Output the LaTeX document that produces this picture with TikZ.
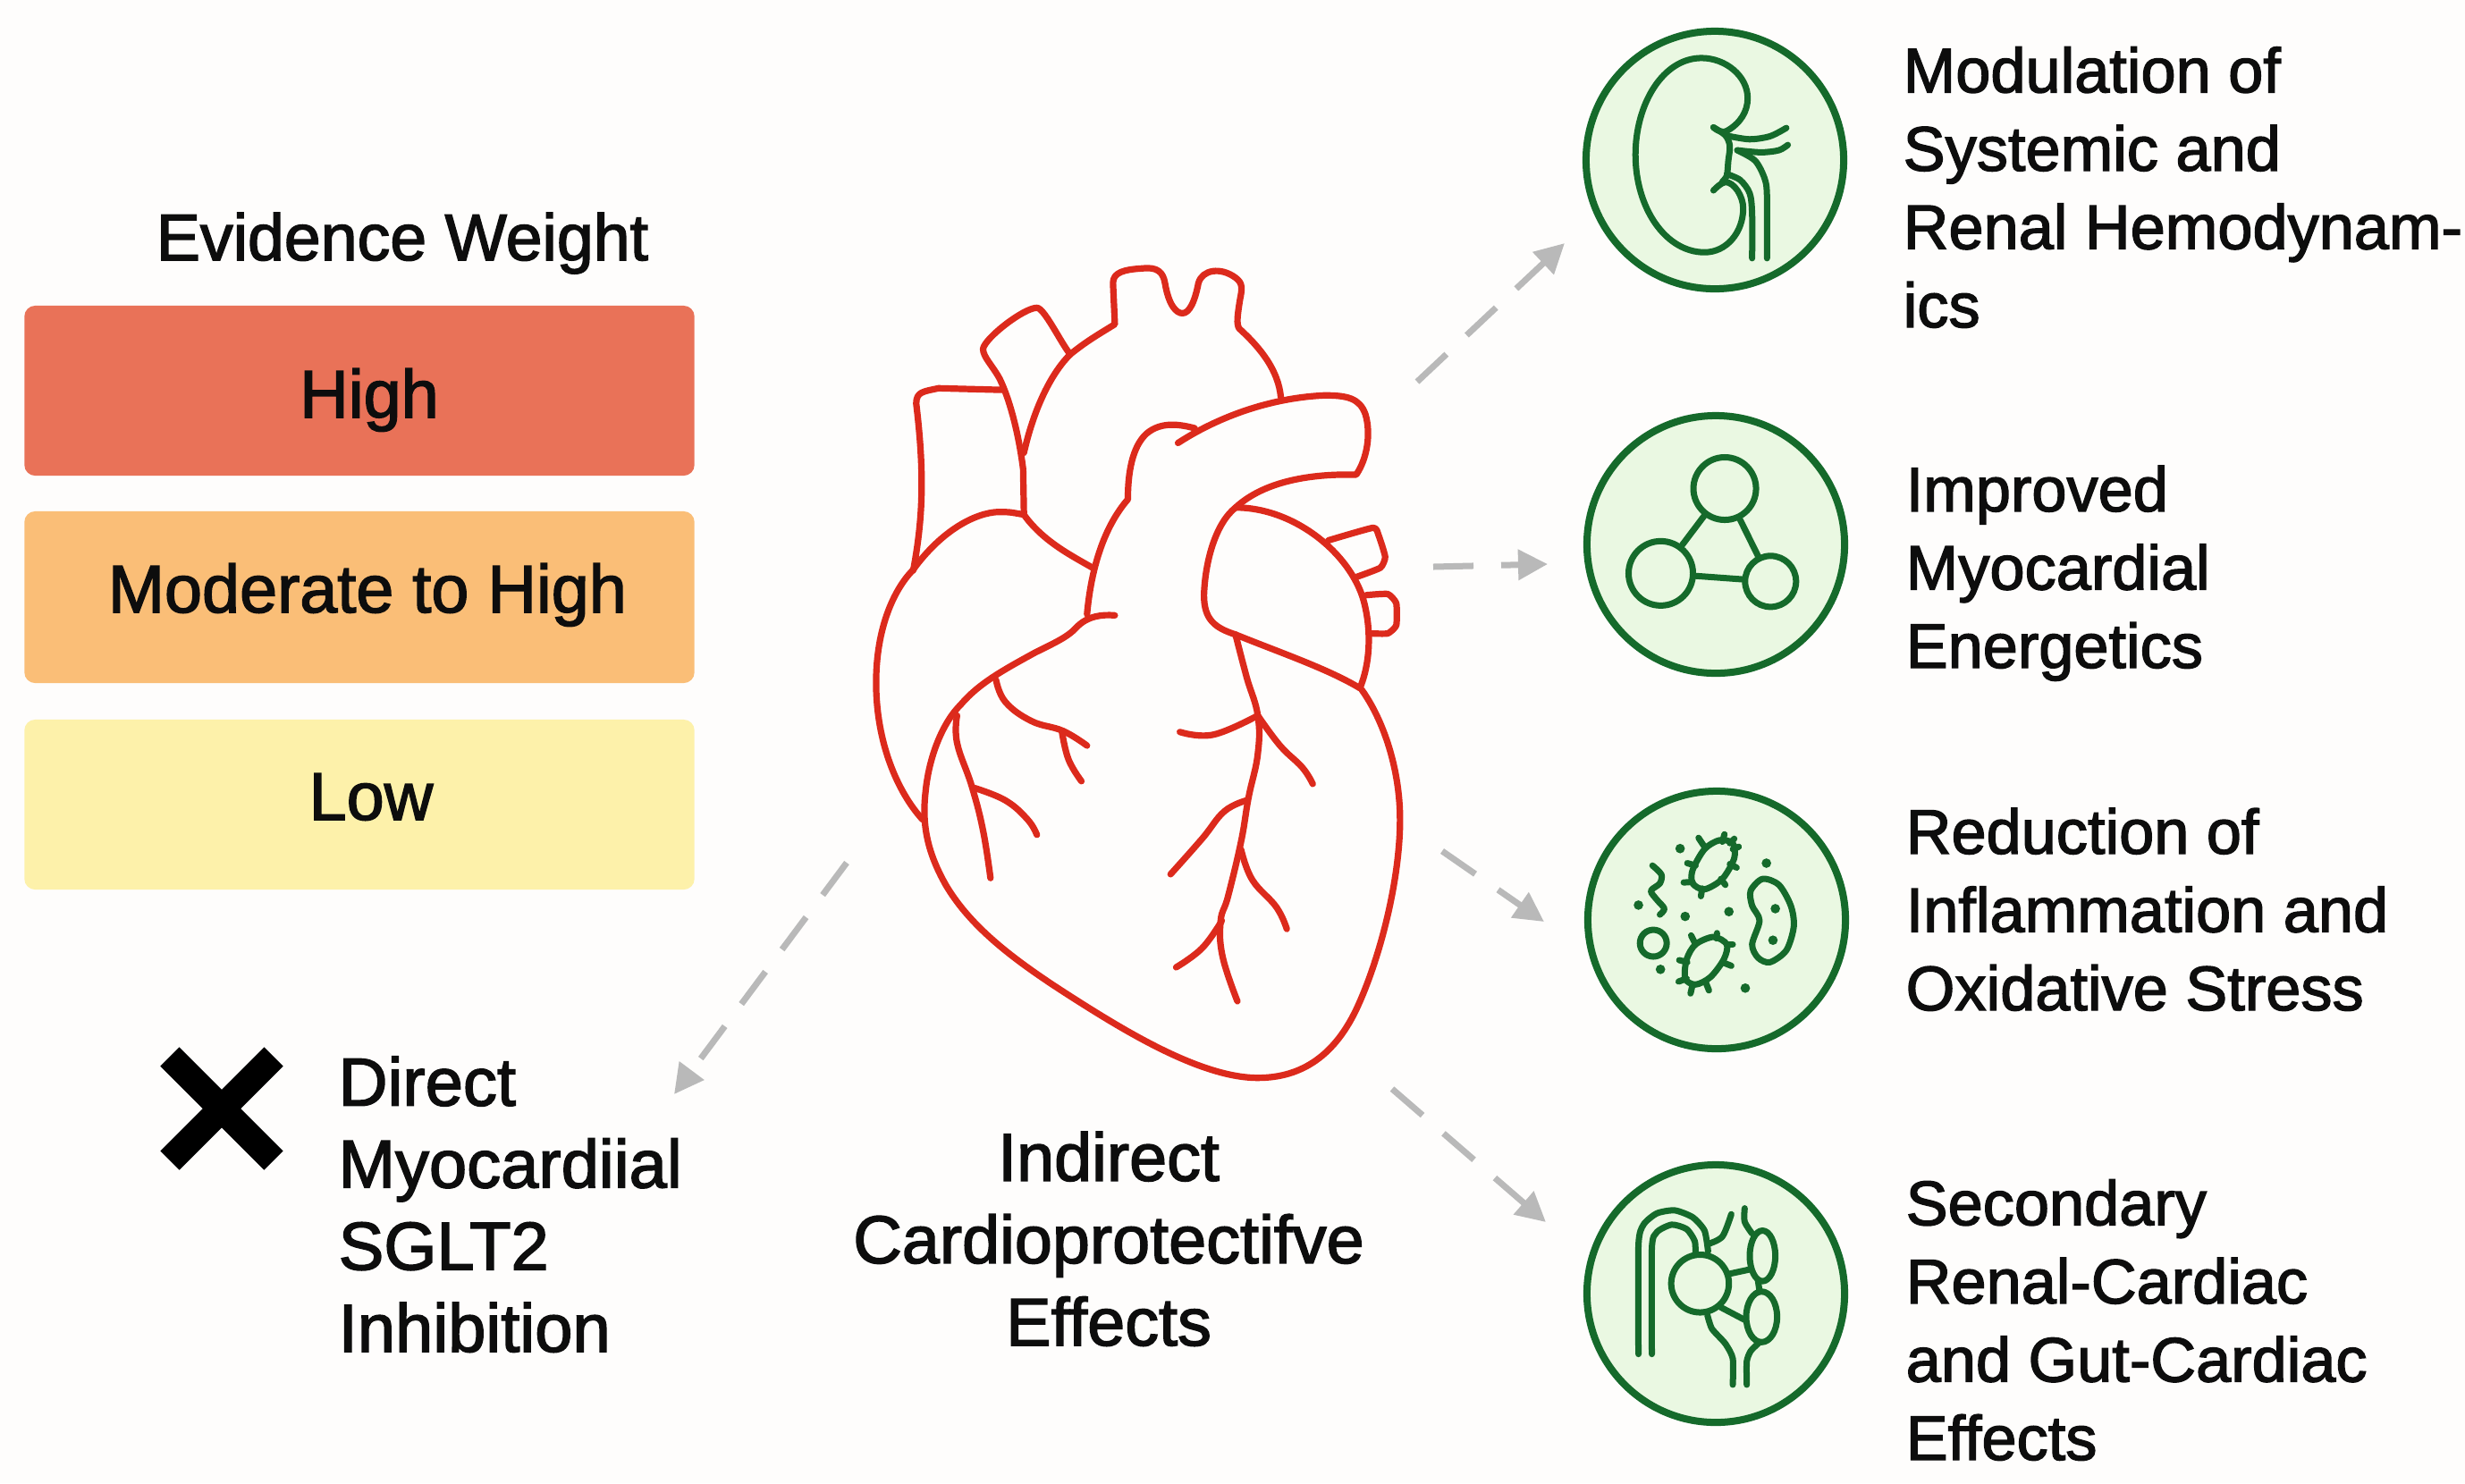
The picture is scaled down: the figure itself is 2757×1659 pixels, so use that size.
\documentclass[tikz,border=0pt]{standalone}
\usepackage{xcolor}
\usepackage{fontspec}
\setmainfont{Liberation Sans}[RawFeature={embolden=2}]
\usetikzlibrary{arrows.meta,shapes.misc}
\definecolor{pagebg}{HTML}{FEFDFC}
\definecolor{inkblack}{HTML}{0D0D0D}
\definecolor{heartred}{HTML}{DC2A1C}
\definecolor{icongreen}{HTML}{156A2B}
\definecolor{iconfill}{HTML}{EAF8E2}
\definecolor{arrowgrey}{HTML}{B9B9B9}
\definecolor{highbox}{HTML}{E97258}
\definecolor{modbox}{HTML}{FABE77}
\definecolor{lowbox}{HTML}{FDF1AA}
\tikzset{
  levelbox/.style={rounded corners=0.12cm, minimum width=7.49cm, minimum height=1.9cm, inner sep=0pt},
  lbl/.style={inner sep=0pt, text=inkblack, font=\fontsize{21.5}{26.2}\selectfont},
  sidelbl/.style={lbl, align=left, anchor=base west, font=\fontsize{20}{24.9}\selectfont},
  heartline/.style={draw=heartred, line width=0.072cm, line cap=round, line join=round},
  iconbg/.style={circle, draw=icongreen, fill=iconfill, line width=0.08cm, minimum size=2.88cm, inner sep=0pt},
  iconline/.style={draw=icongreen, line width=0.07cm, line cap=round, line join=round},
  iconzoom/.style={shift={#1}, x=0.00333cm, y=-0.00333cm},
  cell/.style={circle, draw=icongreen, line width=0.07cm, inner sep=0pt},
  effectarrow/.style={draw=arrowgrey, line width=0.07cm, dash pattern=on 0.45cm off 0.31cm,
    -{Triangle[length=0.33cm,width=0.33cm]}},
}
\begin{document}
\begin{tikzpicture}[x=0.01cm,y=-0.01cm]
  \path[use as bounding box, fill=pagebg] (0,0) rectangle (2757,1659);

  % legend
  \node[lbl, anchor=base, font=\fontsize{20.9}{25}\selectfont] (legendtitle) at (450,291) {Evidence Weight};
  \node[levelbox, fill=highbox] (highbox) at (402,437) {};
  \node[levelbox, fill=modbox, minimum height=1.92cm] (modbox) at (402,668) {};
  \node[levelbox, fill=lowbox] (lowbox) at (402,900) {};
  \node[lbl, anchor=base] (highlabel) at (413,467) {High};
  \node[lbl, anchor=base] (modlabel) at (411,685) {Moderate to High};
  \node[lbl, anchor=base] (lowlabel) at (415,917) {Low};

  % heart, in the coordinates of a stretched crop
  \begin{scope}[shift={(950,280)},x=0.004146cm,y=-0.006124cm]
    \draw[heartline] (1380,803) .. controls (1440,860) and (1483,950) .. (1483,1040) .. controls (1483,1150) and (1430,1290) .. (1370,1380)
      .. controls (1310,1470) and (1220,1512) .. (1100,1512) .. controls (950,1512) and (750,1430) .. (600,1365)
      .. controls (450,1300) and (330,1240) .. (260,1160) .. controls (210,1100) and (195,1050) .. (205,990)
      .. controls (215,920) and (255,860) .. (300,830) .. controls (350,790) and (420,765) .. (500,735)
      .. controls (560,715) and (590,705) .. (610,690) .. controls (640,668) and (680,665) .. (715,667);
    \draw[heartline] (197,1040) .. controls (130,990) and (72,900) .. (72,790) .. controls (72,690) and (120,620) .. (170,585)
      .. controls (250,510) and (340,480) .. (400,478) .. controls (430,478) .. (470,483) .. controls (520,530) and (590,555) .. (655,580);
    \draw[heartline] (172,585) .. controls (195,500) and (205,420) .. (180,280) .. controls (180,258) and (200,258) .. (240,252) -- (410,255);
    \draw[heartline] (470,480) -- (468,400) .. controls (455,330) and (430,270) .. (405,235) .. controls (385,210) and (360,195) .. (360,180)
      .. controls (365,160) and (470,105) .. (505,105) .. controls (525,105) and (570,170) .. (595,190);
    \draw[heartline] (470,370) .. controls (500,280) and (550,220) .. (595,190) .. controls (640,165) and (680,150) .. (715,135) -- (710,60)
      .. controls (710,40) and (740,35) .. (790,33) .. controls (830,30) and (845,40) .. (850,60) .. controls (860,100) and (880,115) .. (897,115)
      .. controls (915,115) and (930,95) .. (940,60) .. controls (950,35) and (1000,30) .. (1040,50) .. controls (1060,60) and (1058,70) .. (1052,90)
      .. controls (1045,120) and (1042,135) .. (1050,143) .. controls (1110,180) and (1155,220) .. (1162,268);
    \draw[heartline] (885,352) .. controls (980,310) and (1120,270) .. (1280,265) .. controls (1340,265) and (1375,270) .. (1390,300)
      .. controls (1405,335) and (1395,380) .. (1365,410) .. controls (1250,408) and (1120,420) .. (1040,470)
      .. controls (985,500) and (958,570) .. (955,630) .. controls (955,675) and (985,690) .. (1040,702) .. controls (1160,735) and (1290,765) .. (1375,800);
    \draw[heartline] (1375,800) .. controls (1405,750) and (1405,690) .. (1385,640) .. controls (1350,555) and (1200,470) .. (1040,470);
    \draw[heartline] (640,665) .. controls (650,590) and (680,510) .. (750,455) .. controls (750,410) and (760,360) .. (800,335) .. controls (840,312) and (890,318) .. (930,325);
    \draw[heartline] plot[smooth,tension=0.3] coordinates {(1290,530) (1410,507) (1425,520) (1443,560) (1430,580) (1365,597)};
    \draw[heartline] plot[smooth,tension=0.3] coordinates {(1392,630) (1450,628) (1473,645) (1473,685) (1450,700) (1405,700)};
    % coronary branches
    \draw[heartline] plot[smooth,tension=0.7] coordinates {(290,850) (290,900) (330,980) (360,1060) (380,1147)};
    \draw[heartline] plot[smooth,tension=0.7] coordinates {(335,982) (420,1005) (480,1040) (505,1068)};
    \draw[heartline] plot[smooth,tension=0.7] coordinates {(395,785) (420,825) (490,860) (575,878) (640,905)};
    \draw[heartline] plot[smooth,tension=0.7] coordinates {(572,878) (590,930) (625,970)};
    \draw[heartline] plot[smooth,tension=0.7] coordinates {(1040,702) (1070,780) (1100,850) (1100,920) (1075,1000) (1055,1080) (1020,1180) (1000,1225) (1005,1290) (1045,1372)};
    \draw[heartline] plot[smooth,tension=0.7] coordinates {(890,880) (980,885) (1100,850)};
    \draw[heartline] plot[smooth,tension=0.7] coordinates {(1100,850) (1160,905) (1220,945) (1248,975)};
    \draw[heartline] plot[smooth,tension=0.7] coordinates {(1070,1005) (1010,1025) (950,1075) (865,1140)};
    \draw[heartline] plot[smooth,tension=0.7] coordinates {(1055,1095) (1085,1150) (1150,1200) (1178,1240)};
    \draw[heartline] plot[smooth,tension=0.7] coordinates {(1003,1225) (950,1275) (880,1310)};
  \end{scope}

  % icon discs
  \node[iconbg] (kidneyicon) at (1918,179) {};
  \node[iconbg] (energyicon) at (1919,609) {};
  \node[iconbg] (microbeicon) at (1920,1029) {};
  \node[iconbg] (guticon) at (1919,1447) {};

  % kidney
  \begin{scope}[iconzoom={(1750,0)}]
    \draw[iconline] (500,428) .. controls (520,445) and (535,445) .. (545,440) .. controls (590,415) and (615,375) .. (615,330)
      .. controls (615,255) and (540,195) .. (460,195) .. controls (330,195) and (238,350) .. (238,520)
      .. controls (238,700) and (340,848) .. (470,848) .. controls (545,848) and (600,780) .. (600,700)
      .. controls (600,660) and (570,612) .. (540,612) .. controls (525,615) and (510,630) .. (500,640);
    \draw[iconline] plot[smooth] coordinates {(500,428) (540,455) (555,490) (550,540) (545,590) (530,610)};
    \draw[iconline] plot[smooth] coordinates {(540,455) (620,468) (690,458) (745,430)};
    \draw[iconline] plot[smooth] coordinates {(580,505) (660,512) (720,505) (750,487)};
    \draw[iconline] plot[smooth] coordinates {(580,505) (640,540) (672,600) (680,660) (680,868)};
    \draw[iconline] plot[smooth] coordinates {(545,585) (590,605) (622,650) (630,720) (630,868)};
  \end{scope}

  % linked cells
  \begin{scope}[iconzoom={(1750,440)}]
    \node[cell, minimum size=0.7cm] (celltop) at (538,320) {};
    \node[cell, minimum size=0.72cm] (cellleft) at (323,605) {};
    \node[cell, minimum size=0.57cm] (cellright) at (692,632) {};
    \draw[iconline] (celltop) -- (cellleft);
    \draw[iconline] (celltop) -- (cellright);
    \draw[iconline] (cellleft) -- (cellright);
  \end{scope}

  % microbes
  \begin{scope}[iconzoom={(1750,860)}]
    \draw[iconline] plot[smooth cycle] coordinates {(565,250) (570,300) (530,370) (470,405) (430,385) (430,340) (470,270) (520,240)};
    \foreach \a/\b in {{450,232}/{470,262},{537,220}/{530,245},{570,235}/{555,250},{585,262}/{565,270},{578,332}/{555,320},
        {540,390}/{525,370},{458,428}/{462,402},{400,382}/{430,380},{412,317}/{440,325}} {
      \draw[iconline] (\a) -- (\b);
    }
    \draw[iconline] plot[smooth cycle] coordinates {(545,590) (535,640) (490,700) (440,725) (405,705) (410,640) (440,590) (500,565)};
    \foreach \a/\b in {{425,560}/{440,590},{512,552}/{510,570},{565,590}/{545,590},{560,662}/{530,650},{485,745}/{475,720},
        {423,755}/{430,725},{383,715}/{410,705},{385,643}/{412,650}} {
      \draw[iconline] (\a) -- (\b);
    }
    \draw[iconline] plot[smooth] coordinates {(295,325) (325,355) (320,385) (290,410) (310,440) (335,470) (320,490)};
    \draw[iconline] (298,586) circle (45);
    \draw[iconline] plot[smooth cycle] coordinates {(665,370) (720,390) (760,460) (770,530) (745,610) (690,650) (650,635) (630,590) (655,510) (630,460) (625,410)};
    \foreach \p in {{388,268},{678,317},{248,458},{405,496},{552,480},{708,470},{700,576},{322,674},{607,737}} {
      \fill[icongreen] (\p) circle (16);
    }
  \end{scope}

  % kidney and gut
  \begin{scope}[iconzoom={(1750,1280)}]
    \draw[iconline] plot[smooth,tension=0.4] coordinates {(248,705) (248,340) (265,270) (310,232) (370,222) (430,245) (470,290) (482,360)};
    \draw[iconline] plot[smooth,tension=0.4] coordinates {(293,705) (293,350) (310,295) (360,270) (410,285) (437,325) (440,370)};
    \draw[iconline] (455,468) circle (97);
    \draw[iconline] plot[smooth] coordinates {(482,335) (530,310) (560,235)};
    \draw[iconline] plot[smooth] coordinates {(605,215) (605,260) (630,300)};
    \draw[iconline] (665,375) ellipse (43 and 85);
    \draw[iconline] (662,580) ellipse (52 and 85);
    \draw[iconline] (555,435) -- (625,420);
    \draw[iconline] (650,460) -- (655,495);
    \draw[iconline] (525,548) -- (605,590);
    \draw[iconline] plot[smooth,tension=0.4] coordinates {(480,575) (495,620) (540,670) (565,720) (565,808)};
    \draw[iconline] plot[smooth,tension=0.4] coordinates {(612,808) (612,730) (625,695) (650,670)};
  \end{scope}

  % effect labels
  \node[sidelbl] (kidneytext) at (2128,366) {Modulation of\\Systemic and\\Renal Hemodynam-\\ics};
  \node[sidelbl] (energytext) at (2131,747) {Improved\\Myocardial\\Energetics};
  \node[sidelbl] (microbetext) at (2131,1130) {Reduction of\\Inflammation and\\Oxidative Stress};
  \node[sidelbl] (guttext) at (2131,1633) {Secondary\\Renal-Cardiac\\and Gut-Cardiac\\Effects};
  \node[lbl, align=center, anchor=base] (hearttext) at (1240,1505) {Indirect\\Cardioprotectifve\\Effects};

  % direct inhibition, crossed out
  \node[cross out, draw=black, line width=0.3cm, minimum size=0.86cm, inner sep=0pt] (crossmark) at (248,1240) {};
  \node[lbl, align=left, anchor=base west, font=\fontsize{21.6}{26.1}\selectfont] (directtext) at (378,1512) {Direct\\Myocardiial\\SGLT2\\Inhibition};

  % connectors
  \coordinate (tailkidney) at (1585,427);
  \coordinate (tipkidney) at (1750,272);
  \coordinate (tailenergy) at (1603,634);
  \coordinate (tipenergy) at (1731,631);
  \coordinate (tailmicrobe) at (1613,952);
  \coordinate (tipmicrobe) at (1727,1031);
  \coordinate (tailgut) at (1557,1218);
  \coordinate (tipgut) at (1729,1367);
  \coordinate (taildirect) at (947,965);
  \coordinate (tipdirect) at (754,1224);
  \draw[effectarrow] (tailkidney) -- (tipkidney);
  \draw[effectarrow] (tailenergy) -- (tipenergy);
  \draw[effectarrow] (tailmicrobe) -- (tipmicrobe);
  \draw[effectarrow] (tailgut) -- (tipgut);
  \draw[effectarrow] (taildirect) -- (tipdirect);
\end{tikzpicture}
\end{document}
